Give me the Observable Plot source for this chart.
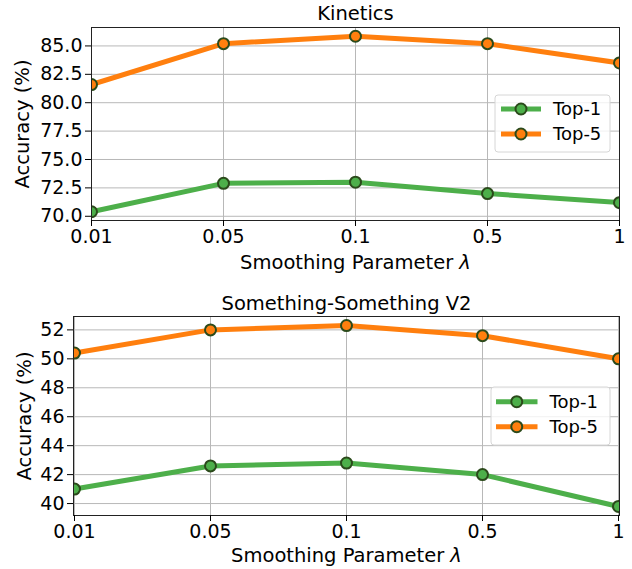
<!DOCTYPE html>
<html>
<head>
<meta charset="utf-8">
<script src="https://cdn.jsdelivr.net/npm/d3@7"></script>
<script src="https://cdn.jsdelivr.net/npm/@observablehq/plot@0.6"></script>
<style>
  html, body { margin: 0; padding: 0; background: #fff; }
  svg { display: block; }
</style>
</head>
<body>
<div id="chart"></div>
<script>
const lambdas = ["0.01", "0.05", "0.1", "0.5", "1"];
const seriesNames = ["Top-1", "Top-5"];
const seriesColors = ["#4daf4a", "#ff7f0e"];

const kineticsTitle = "Kinetics";
const kineticsTop1 = [70.4, 72.9, 73.0, 72.0, 71.2];
const kineticsTop5 = [81.6, 85.2, 85.85, 85.2, 83.5];
const kineticsTicks = [70, 72.5, 75, 77.5, 80, 82.5, 85];

const ssv2Title = "Something-Something V2";
const ssv2Top1 = [41.0, 42.6, 42.8, 42.0, 39.8];
const ssv2Top5 = [50.4, 52.0, 52.3, 51.6, 50.0];
const ssv2Ticks = [40, 42, 44, 46, 48, 50, 52];

const xLabel = "Smoothing Parameter ";
const xLabelSym = "λ";
const yLabel = "Accuracy (%)";

const FONT = "DejaVu Sans";
const EDGE = "#2b4a1b";

function makeChart(cfg) {
  const rows = [];
  [cfg.top1, cfg.top5].forEach((vals, i) => {
    vals.forEach((v, j) => rows.push({lambda: lambdas[j], value: v, series: seriesNames[i]}));
  });
  const all = cfg.top1.concat(cfg.top5);
  const [mn, mx] = d3.extent(all);
  const pad = (mx - mn) * 0.05;
  const plot = Plot.plot({
    width: 632,
    height: cfg.height,
    marginTop: cfg.mt, marginBottom: cfg.mb, marginLeft: cfg.ml, marginRight: cfg.mr,
    style: {fontFamily: FONT, fontSize: "19px", color: "#000", background: "#fff", overflow: "visible"},
    x: {type: "point", domain: lambdas, padding: 0},
    y: {domain: [mn - pad, mx + pad]},
    color: {domain: seriesNames, range: seriesColors},
    marks: [
      Plot.gridX(lambdas, {stroke: "#b8b8b8", strokeOpacity: 1, strokeWidth: 1}),
      Plot.gridY(cfg.ticks, {stroke: "#b8b8b8", strokeOpacity: 1, strokeWidth: 1}),
      Plot.line(rows, {x: "lambda", y: "value", z: "series", stroke: "series", strokeWidth: 5, clip: true}),
      Plot.dot(rows, {x: "lambda", y: "value", fill: "series", stroke: EDGE, strokeWidth: 2, r: 5.5, clip: true}),
      Plot.frame({stroke: "#222", strokeWidth: 1}),
      Plot.axisY(cfg.ticks, {tickSize: 6, tickPadding: 3, tickFormat: cfg.fmt, label: null, fontSize: 19}),
      Plot.axisX(lambdas, {tickSize: 6, tickPadding: 3, label: null, fontSize: 19}),
      Plot.text([cfg.title], {frameAnchor: "top", dy: cfg.titleDy, fontSize: 19.5, lineAnchor: "middle", textAnchor: "middle"}),
      Plot.text([yLabel], {frameAnchor: "left", dx: cfg.yLabelDx, rotate: -90, fontSize: 19.5, lineAnchor: "middle", textAnchor: "middle"}),
      Plot.text([xLabel + xLabelSym], {frameAnchor: "bottom", dy: cfg.xLabelDy, fontSize: 19.5, lineAnchor: "middle", textAnchor: "middle", className: "xlab"})
    ]
  });
  const svg = d3.select(plot);
  // italic lambda
  svg.selectAll(".xlab text").each(function() {
    const t = d3.select(this);
    t.text(null);
    t.append("tspan").text(xLabel);
    t.append("tspan").attr("font-style", "italic").text(xLabelSym);
  });
  // legend
  const L = cfg.legend;
  const g = svg.append("g").attr("font-family", FONT).attr("font-size", 18).attr("text-anchor", "start");
  g.append("rect").attr("x", L.x).attr("y", L.y).attr("width", L.w).attr("height", L.h)
    .attr("rx", 3).attr("fill", "#fff").attr("fill-opacity", 0.8).attr("stroke", "#d6d6d6");
  seriesNames.forEach((name, i) => {
    const yy = L.rows[i];
    g.append("line").attr("x1", L.lx1).attr("x2", L.lx2).attr("y1", yy).attr("y2", yy)
      .attr("stroke", seriesColors[i]).attr("stroke-width", 5);
    g.append("circle").attr("cx", (L.lx1 + L.lx2) / 2).attr("cy", yy).attr("r", 5.5)
      .attr("fill", seriesColors[i]).attr("stroke", EDGE).attr("stroke-width", 2);
    g.append("text").attr("x", L.tx).attr("y", yy).attr("dy", "0.35em")
      .attr("text-anchor", "start").attr("fill", "#000").text(name);
  });
  return plot;
}

const root = document.getElementById("chart");
root.appendChild(makeChart({
  title: kineticsTitle, top1: kineticsTop1, top5: kineticsTop5, ticks: kineticsTicks,
  fmt: d3.format(".1f"), height: 290, mt: 27, mb: 70, ml: 91, mr: 13,
  titleDy: -14, yLabelDx: -69, xLabelDy: 42,
  legend: {x: 495, y: 95, w: 115, h: 57, rows: [109, 134], lx1: 501, lx2: 541, tx: 553}
}));
root.appendChild(makeChart({
  title: ssv2Title, top1: ssv2Top1, top5: ssv2Top5, ticks: ssv2Ticks,
  fmt: d3.format("d"), height: 279, mt: 26, mb: 54, ml: 73, mr: 13,
  titleDy: -13, yLabelDx: -49, xLabelDy: 40,
  legend: {x: 491, y: 97, w: 119, h: 58, rows: [111.7, 136.7], lx1: 496, lx2: 537.5, tx: 549.6}
}));
</script>
</body>
</html>
